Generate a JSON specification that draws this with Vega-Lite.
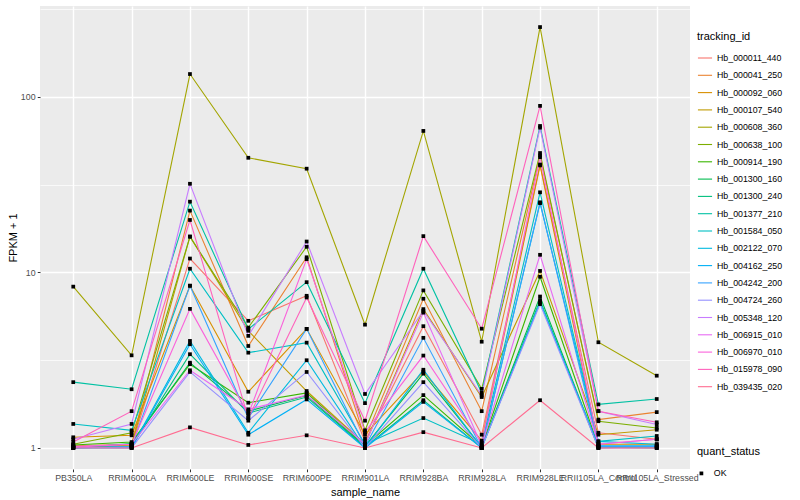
{
"$schema": "https://vega.github.io/schema/vega-lite/v6.json",
"width": 650, "height": 463,
"autosize": {"type": "none"},
"padding": {"left": 40, "top": 6, "right": 110, "bottom": 31},
"background": "white",
"config": {
  "font": "Liberation Sans",
  "view": {"fill": "#EBEBEB", "stroke": null},
  "axis": {"domain": false, "gridColor": "white", "labelColor": "#4D4D4D", "labelFontSize": 8.8, "tickColor": "#333333", "tickSize": 2.75, "labelPadding": 2.2, "titleFontSize": 11, "titleColor": "black", "titleFontWeight": "normal"},
  "legend": {"titleFontSize": 11, "titleFontWeight": "normal", "labelFontSize": 8.8, "labelColor": "black", "titleColor": "black"}
},
"data": {"values": [
{"tracking_id":"Hb_000011_440","sample_name":"PB350LA","fpkm":1.02,"quant_status":"OK"},
{"tracking_id":"Hb_000011_440","sample_name":"RRIM600LA","fpkm":1.03,"quant_status":"OK"},
{"tracking_id":"Hb_000011_440","sample_name":"RRIM600LE","fpkm":12.0,"quant_status":"OK"},
{"tracking_id":"Hb_000011_440","sample_name":"RRIM600SE","fpkm":5.3,"quant_status":"OK"},
{"tracking_id":"Hb_000011_440","sample_name":"RRIM600PE","fpkm":7.36,"quant_status":"OK"},
{"tracking_id":"Hb_000011_440","sample_name":"RRIM901LA","fpkm":1.09,"quant_status":"OK"},
{"tracking_id":"Hb_000011_440","sample_name":"RRIM928BA","fpkm":4.94,"quant_status":"OK"},
{"tracking_id":"Hb_000011_440","sample_name":"RRIM928LA","fpkm":1.19,"quant_status":"OK"},
{"tracking_id":"Hb_000011_440","sample_name":"RRIM928LE","fpkm":41.2,"quant_status":"OK"},
{"tracking_id":"Hb_000011_440","sample_name":"RRII105LA_Control","fpkm":1.22,"quant_status":"OK"},
{"tracking_id":"Hb_000011_440","sample_name":"RRII105LA_Stressed","fpkm":1.12,"quant_status":"OK"},
{"tracking_id":"Hb_000041_250","sample_name":"PB350LA","fpkm":1.03,"quant_status":"OK"},
{"tracking_id":"Hb_000041_250","sample_name":"RRIM600LA","fpkm":1.05,"quant_status":"OK"},
{"tracking_id":"Hb_000041_250","sample_name":"RRIM600LE","fpkm":22.5,"quant_status":"OK"},
{"tracking_id":"Hb_000041_250","sample_name":"RRIM600SE","fpkm":3.81,"quant_status":"OK"},
{"tracking_id":"Hb_000041_250","sample_name":"RRIM600PE","fpkm":12.2,"quant_status":"OK"},
{"tracking_id":"Hb_000041_250","sample_name":"RRIM901LA","fpkm":1.13,"quant_status":"OK"},
{"tracking_id":"Hb_000041_250","sample_name":"RRIM928BA","fpkm":7.08,"quant_status":"OK"},
{"tracking_id":"Hb_000041_250","sample_name":"RRIM928LA","fpkm":1.62,"quant_status":"OK"},
{"tracking_id":"Hb_000041_250","sample_name":"RRIM928LE","fpkm":46.4,"quant_status":"OK"},
{"tracking_id":"Hb_000041_250","sample_name":"RRII105LA_Control","fpkm":1.45,"quant_status":"OK"},
{"tracking_id":"Hb_000041_250","sample_name":"RRII105LA_Stressed","fpkm":1.60,"quant_status":"OK"},
{"tracking_id":"Hb_000092_060","sample_name":"PB350LA","fpkm":1.15,"quant_status":"OK"},
{"tracking_id":"Hb_000092_060","sample_name":"RRIM600LA","fpkm":1.18,"quant_status":"OK"},
{"tracking_id":"Hb_000092_060","sample_name":"RRIM600LE","fpkm":8.4,"quant_status":"OK"},
{"tracking_id":"Hb_000092_060","sample_name":"RRIM600SE","fpkm":2.09,"quant_status":"OK"},
{"tracking_id":"Hb_000092_060","sample_name":"RRIM600PE","fpkm":4.77,"quant_status":"OK"},
{"tracking_id":"Hb_000092_060","sample_name":"RRIM901LA","fpkm":1.19,"quant_status":"OK"},
{"tracking_id":"Hb_000092_060","sample_name":"RRIM928BA","fpkm":2.72,"quant_status":"OK"},
{"tracking_id":"Hb_000092_060","sample_name":"RRIM928LA","fpkm":1.10,"quant_status":"OK"},
{"tracking_id":"Hb_000092_060","sample_name":"RRIM928LE","fpkm":40.7,"quant_status":"OK"},
{"tracking_id":"Hb_000092_060","sample_name":"RRII105LA_Control","fpkm":1.05,"quant_status":"OK"},
{"tracking_id":"Hb_000092_060","sample_name":"RRII105LA_Stressed","fpkm":1.05,"quant_status":"OK"},
{"tracking_id":"Hb_000107_540","sample_name":"PB350LA","fpkm":1.01,"quant_status":"OK"},
{"tracking_id":"Hb_000107_540","sample_name":"RRIM600LA","fpkm":1.04,"quant_status":"OK"},
{"tracking_id":"Hb_000107_540","sample_name":"RRIM600LE","fpkm":16.0,"quant_status":"OK"},
{"tracking_id":"Hb_000107_540","sample_name":"RRIM600SE","fpkm":4.65,"quant_status":"OK"},
{"tracking_id":"Hb_000107_540","sample_name":"RRIM600PE","fpkm":2.11,"quant_status":"OK"},
{"tracking_id":"Hb_000107_540","sample_name":"RRIM901LA","fpkm":1.05,"quant_status":"OK"},
{"tracking_id":"Hb_000107_540","sample_name":"RRIM928BA","fpkm":6.18,"quant_status":"OK"},
{"tracking_id":"Hb_000107_540","sample_name":"RRIM928LA","fpkm":1.95,"quant_status":"OK"},
{"tracking_id":"Hb_000107_540","sample_name":"RRIM928LE","fpkm":10.2,"quant_status":"OK"},
{"tracking_id":"Hb_000107_540","sample_name":"RRII105LA_Control","fpkm":1.19,"quant_status":"OK"},
{"tracking_id":"Hb_000107_540","sample_name":"RRII105LA_Stressed","fpkm":1.27,"quant_status":"OK"},
{"tracking_id":"Hb_000608_360","sample_name":"PB350LA","fpkm":8.3,"quant_status":"OK"},
{"tracking_id":"Hb_000608_360","sample_name":"RRIM600LA","fpkm":3.37,"quant_status":"OK"},
{"tracking_id":"Hb_000608_360","sample_name":"RRIM600LE","fpkm":135,"quant_status":"OK"},
{"tracking_id":"Hb_000608_360","sample_name":"RRIM600SE","fpkm":45,"quant_status":"OK"},
{"tracking_id":"Hb_000608_360","sample_name":"RRIM600PE","fpkm":39,"quant_status":"OK"},
{"tracking_id":"Hb_000608_360","sample_name":"RRIM901LA","fpkm":5.04,"quant_status":"OK"},
{"tracking_id":"Hb_000608_360","sample_name":"RRIM928BA","fpkm":64,"quant_status":"OK"},
{"tracking_id":"Hb_000608_360","sample_name":"RRIM928LA","fpkm":4.03,"quant_status":"OK"},
{"tracking_id":"Hb_000608_360","sample_name":"RRIM928LE","fpkm":250,"quant_status":"OK"},
{"tracking_id":"Hb_000608_360","sample_name":"RRII105LA_Control","fpkm":4.0,"quant_status":"OK"},
{"tracking_id":"Hb_000608_360","sample_name":"RRII105LA_Stressed","fpkm":2.58,"quant_status":"OK"},
{"tracking_id":"Hb_000638_100","sample_name":"PB350LA","fpkm":1.05,"quant_status":"OK"},
{"tracking_id":"Hb_000638_100","sample_name":"RRIM600LA","fpkm":1.22,"quant_status":"OK"},
{"tracking_id":"Hb_000638_100","sample_name":"RRIM600LE","fpkm":16.0,"quant_status":"OK"},
{"tracking_id":"Hb_000638_100","sample_name":"RRIM600SE","fpkm":4.85,"quant_status":"OK"},
{"tracking_id":"Hb_000638_100","sample_name":"RRIM600PE","fpkm":14.0,"quant_status":"OK"},
{"tracking_id":"Hb_000638_100","sample_name":"RRIM901LA","fpkm":1.26,"quant_status":"OK"},
{"tracking_id":"Hb_000638_100","sample_name":"RRIM928BA","fpkm":7.9,"quant_status":"OK"},
{"tracking_id":"Hb_000638_100","sample_name":"RRIM928LA","fpkm":2.17,"quant_status":"OK"},
{"tracking_id":"Hb_000638_100","sample_name":"RRIM928LE","fpkm":47.9,"quant_status":"OK"},
{"tracking_id":"Hb_000638_100","sample_name":"RRII105LA_Control","fpkm":1.42,"quant_status":"OK"},
{"tracking_id":"Hb_000638_100","sample_name":"RRII105LA_Stressed","fpkm":1.30,"quant_status":"OK"},
{"tracking_id":"Hb_000914_190","sample_name":"PB350LA","fpkm":1.04,"quant_status":"OK"},
{"tracking_id":"Hb_000914_190","sample_name":"RRIM600LA","fpkm":1.08,"quant_status":"OK"},
{"tracking_id":"Hb_000914_190","sample_name":"RRIM600LE","fpkm":3.0,"quant_status":"OK"},
{"tracking_id":"Hb_000914_190","sample_name":"RRIM600SE","fpkm":1.81,"quant_status":"OK"},
{"tracking_id":"Hb_000914_190","sample_name":"RRIM600PE","fpkm":2.06,"quant_status":"OK"},
{"tracking_id":"Hb_000914_190","sample_name":"RRIM901LA","fpkm":1.03,"quant_status":"OK"},
{"tracking_id":"Hb_000914_190","sample_name":"RRIM928BA","fpkm":2.0,"quant_status":"OK"},
{"tracking_id":"Hb_000914_190","sample_name":"RRIM928LA","fpkm":1.02,"quant_status":"OK"},
{"tracking_id":"Hb_000914_190","sample_name":"RRIM928LE","fpkm":9.45,"quant_status":"OK"},
{"tracking_id":"Hb_000914_190","sample_name":"RRII105LA_Control","fpkm":1.02,"quant_status":"OK"},
{"tracking_id":"Hb_000914_190","sample_name":"RRII105LA_Stressed","fpkm":1.01,"quant_status":"OK"},
{"tracking_id":"Hb_001300_160","sample_name":"PB350LA","fpkm":1.0,"quant_status":"OK"},
{"tracking_id":"Hb_001300_160","sample_name":"RRIM600LA","fpkm":1.06,"quant_status":"OK"},
{"tracking_id":"Hb_001300_160","sample_name":"RRIM600LE","fpkm":3.06,"quant_status":"OK"},
{"tracking_id":"Hb_001300_160","sample_name":"RRIM600SE","fpkm":1.62,"quant_status":"OK"},
{"tracking_id":"Hb_001300_160","sample_name":"RRIM600PE","fpkm":1.99,"quant_status":"OK"},
{"tracking_id":"Hb_001300_160","sample_name":"RRIM901LA","fpkm":1.02,"quant_status":"OK"},
{"tracking_id":"Hb_001300_160","sample_name":"RRIM928BA","fpkm":2.65,"quant_status":"OK"},
{"tracking_id":"Hb_001300_160","sample_name":"RRIM928LA","fpkm":1.01,"quant_status":"OK"},
{"tracking_id":"Hb_001300_160","sample_name":"RRIM928LE","fpkm":7.29,"quant_status":"OK"},
{"tracking_id":"Hb_001300_160","sample_name":"RRII105LA_Control","fpkm":1.01,"quant_status":"OK"},
{"tracking_id":"Hb_001300_160","sample_name":"RRII105LA_Stressed","fpkm":1.0,"quant_status":"OK"},
{"tracking_id":"Hb_001300_240","sample_name":"PB350LA","fpkm":1.01,"quant_status":"OK"},
{"tracking_id":"Hb_001300_240","sample_name":"RRIM600LA","fpkm":1.02,"quant_status":"OK"},
{"tracking_id":"Hb_001300_240","sample_name":"RRIM600LE","fpkm":3.42,"quant_status":"OK"},
{"tracking_id":"Hb_001300_240","sample_name":"RRIM600SE","fpkm":1.58,"quant_status":"OK"},
{"tracking_id":"Hb_001300_240","sample_name":"RRIM600PE","fpkm":1.95,"quant_status":"OK"},
{"tracking_id":"Hb_001300_240","sample_name":"RRIM901LA","fpkm":1.01,"quant_status":"OK"},
{"tracking_id":"Hb_001300_240","sample_name":"RRIM928BA","fpkm":1.87,"quant_status":"OK"},
{"tracking_id":"Hb_001300_240","sample_name":"RRIM928LA","fpkm":1.0,"quant_status":"OK"},
{"tracking_id":"Hb_001300_240","sample_name":"RRIM928LE","fpkm":6.95,"quant_status":"OK"},
{"tracking_id":"Hb_001300_240","sample_name":"RRII105LA_Control","fpkm":1.0,"quant_status":"OK"},
{"tracking_id":"Hb_001300_240","sample_name":"RRII105LA_Stressed","fpkm":1.02,"quant_status":"OK"},
{"tracking_id":"Hb_001377_210","sample_name":"PB350LA","fpkm":2.37,"quant_status":"OK"},
{"tracking_id":"Hb_001377_210","sample_name":"RRIM600LA","fpkm":2.16,"quant_status":"OK"},
{"tracking_id":"Hb_001377_210","sample_name":"RRIM600LE","fpkm":25.3,"quant_status":"OK"},
{"tracking_id":"Hb_001377_210","sample_name":"RRIM600SE","fpkm":4.75,"quant_status":"OK"},
{"tracking_id":"Hb_001377_210","sample_name":"RRIM600PE","fpkm":8.8,"quant_status":"OK"},
{"tracking_id":"Hb_001377_210","sample_name":"RRIM901LA","fpkm":1.80,"quant_status":"OK"},
{"tracking_id":"Hb_001377_210","sample_name":"RRIM928BA","fpkm":10.5,"quant_status":"OK"},
{"tracking_id":"Hb_001377_210","sample_name":"RRIM928LA","fpkm":2.06,"quant_status":"OK"},
{"tracking_id":"Hb_001377_210","sample_name":"RRIM928LE","fpkm":68.3,"quant_status":"OK"},
{"tracking_id":"Hb_001377_210","sample_name":"RRII105LA_Control","fpkm":1.77,"quant_status":"OK"},
{"tracking_id":"Hb_001377_210","sample_name":"RRII105LA_Stressed","fpkm":1.90,"quant_status":"OK"},
{"tracking_id":"Hb_001584_050","sample_name":"PB350LA","fpkm":1.37,"quant_status":"OK"},
{"tracking_id":"Hb_001584_050","sample_name":"RRIM600LA","fpkm":1.26,"quant_status":"OK"},
{"tracking_id":"Hb_001584_050","sample_name":"RRIM600LE","fpkm":10.5,"quant_status":"OK"},
{"tracking_id":"Hb_001584_050","sample_name":"RRIM600SE","fpkm":3.49,"quant_status":"OK"},
{"tracking_id":"Hb_001584_050","sample_name":"RRIM600PE","fpkm":3.98,"quant_status":"OK"},
{"tracking_id":"Hb_001584_050","sample_name":"RRIM901LA","fpkm":1.05,"quant_status":"OK"},
{"tracking_id":"Hb_001584_050","sample_name":"RRIM928BA","fpkm":1.48,"quant_status":"OK"},
{"tracking_id":"Hb_001584_050","sample_name":"RRIM928LA","fpkm":1.05,"quant_status":"OK"},
{"tracking_id":"Hb_001584_050","sample_name":"RRIM928LE","fpkm":28.6,"quant_status":"OK"},
{"tracking_id":"Hb_001584_050","sample_name":"RRII105LA_Control","fpkm":1.09,"quant_status":"OK"},
{"tracking_id":"Hb_001584_050","sample_name":"RRII105LA_Stressed","fpkm":1.17,"quant_status":"OK"},
{"tracking_id":"Hb_002122_070","sample_name":"PB350LA","fpkm":1.0,"quant_status":"OK"},
{"tracking_id":"Hb_002122_070","sample_name":"RRIM600LA","fpkm":1.01,"quant_status":"OK"},
{"tracking_id":"Hb_002122_070","sample_name":"RRIM600LE","fpkm":4.07,"quant_status":"OK"},
{"tracking_id":"Hb_002122_070","sample_name":"RRIM600SE","fpkm":1.22,"quant_status":"OK"},
{"tracking_id":"Hb_002122_070","sample_name":"RRIM600PE","fpkm":3.16,"quant_status":"OK"},
{"tracking_id":"Hb_002122_070","sample_name":"RRIM901LA","fpkm":1.0,"quant_status":"OK"},
{"tracking_id":"Hb_002122_070","sample_name":"RRIM928BA","fpkm":2.79,"quant_status":"OK"},
{"tracking_id":"Hb_002122_070","sample_name":"RRIM928LA","fpkm":1.0,"quant_status":"OK"},
{"tracking_id":"Hb_002122_070","sample_name":"RRIM928LE","fpkm":24.8,"quant_status":"OK"},
{"tracking_id":"Hb_002122_070","sample_name":"RRII105LA_Control","fpkm":1.09,"quant_status":"OK"},
{"tracking_id":"Hb_002122_070","sample_name":"RRII105LA_Stressed","fpkm":1.05,"quant_status":"OK"},
{"tracking_id":"Hb_004162_250","sample_name":"PB350LA","fpkm":1.0,"quant_status":"OK"},
{"tracking_id":"Hb_004162_250","sample_name":"RRIM600LA","fpkm":1.0,"quant_status":"OK"},
{"tracking_id":"Hb_004162_250","sample_name":"RRIM600LE","fpkm":3.9,"quant_status":"OK"},
{"tracking_id":"Hb_004162_250","sample_name":"RRIM600SE","fpkm":1.19,"quant_status":"OK"},
{"tracking_id":"Hb_004162_250","sample_name":"RRIM600PE","fpkm":1.89,"quant_status":"OK"},
{"tracking_id":"Hb_004162_250","sample_name":"RRIM901LA","fpkm":1.0,"quant_status":"OK"},
{"tracking_id":"Hb_004162_250","sample_name":"RRIM928BA","fpkm":1.83,"quant_status":"OK"},
{"tracking_id":"Hb_004162_250","sample_name":"RRIM928LA","fpkm":1.0,"quant_status":"OK"},
{"tracking_id":"Hb_004162_250","sample_name":"RRIM928LE","fpkm":6.75,"quant_status":"OK"},
{"tracking_id":"Hb_004162_250","sample_name":"RRII105LA_Control","fpkm":1.03,"quant_status":"OK"},
{"tracking_id":"Hb_004162_250","sample_name":"RRII105LA_Stressed","fpkm":1.03,"quant_status":"OK"},
{"tracking_id":"Hb_004242_200","sample_name":"PB350LA","fpkm":1.0,"quant_status":"OK"},
{"tracking_id":"Hb_004242_200","sample_name":"RRIM600LA","fpkm":1.02,"quant_status":"OK"},
{"tracking_id":"Hb_004242_200","sample_name":"RRIM600LE","fpkm":8.4,"quant_status":"OK"},
{"tracking_id":"Hb_004242_200","sample_name":"RRIM600SE","fpkm":1.48,"quant_status":"OK"},
{"tracking_id":"Hb_004242_200","sample_name":"RRIM600PE","fpkm":4.77,"quant_status":"OK"},
{"tracking_id":"Hb_004242_200","sample_name":"RRIM901LA","fpkm":1.02,"quant_status":"OK"},
{"tracking_id":"Hb_004242_200","sample_name":"RRIM928BA","fpkm":4.24,"quant_status":"OK"},
{"tracking_id":"Hb_004242_200","sample_name":"RRIM928LA","fpkm":1.0,"quant_status":"OK"},
{"tracking_id":"Hb_004242_200","sample_name":"RRIM928LE","fpkm":25.1,"quant_status":"OK"},
{"tracking_id":"Hb_004242_200","sample_name":"RRII105LA_Control","fpkm":1.02,"quant_status":"OK"},
{"tracking_id":"Hb_004242_200","sample_name":"RRII105LA_Stressed","fpkm":1.02,"quant_status":"OK"},
{"tracking_id":"Hb_004724_260","sample_name":"PB350LA","fpkm":1.01,"quant_status":"OK"},
{"tracking_id":"Hb_004724_260","sample_name":"RRIM600LA","fpkm":1.0,"quant_status":"OK"},
{"tracking_id":"Hb_004724_260","sample_name":"RRIM600LE","fpkm":2.71,"quant_status":"OK"},
{"tracking_id":"Hb_004724_260","sample_name":"RRIM600SE","fpkm":1.43,"quant_status":"OK"},
{"tracking_id":"Hb_004724_260","sample_name":"RRIM600PE","fpkm":2.71,"quant_status":"OK"},
{"tracking_id":"Hb_004724_260","sample_name":"RRIM901LA","fpkm":1.0,"quant_status":"OK"},
{"tracking_id":"Hb_004724_260","sample_name":"RRIM928BA","fpkm":2.37,"quant_status":"OK"},
{"tracking_id":"Hb_004724_260","sample_name":"RRIM928LA","fpkm":1.0,"quant_status":"OK"},
{"tracking_id":"Hb_004724_260","sample_name":"RRIM928LE","fpkm":6.6,"quant_status":"OK"},
{"tracking_id":"Hb_004724_260","sample_name":"RRII105LA_Control","fpkm":1.0,"quant_status":"OK"},
{"tracking_id":"Hb_004724_260","sample_name":"RRII105LA_Stressed","fpkm":1.0,"quant_status":"OK"},
{"tracking_id":"Hb_005348_120","sample_name":"PB350LA","fpkm":1.12,"quant_status":"OK"},
{"tracking_id":"Hb_005348_120","sample_name":"RRIM600LA","fpkm":1.37,"quant_status":"OK"},
{"tracking_id":"Hb_005348_120","sample_name":"RRIM600LE","fpkm":32,"quant_status":"OK"},
{"tracking_id":"Hb_005348_120","sample_name":"RRIM600SE","fpkm":4.35,"quant_status":"OK"},
{"tracking_id":"Hb_005348_120","sample_name":"RRIM600PE","fpkm":15.0,"quant_status":"OK"},
{"tracking_id":"Hb_005348_120","sample_name":"RRIM901LA","fpkm":2.03,"quant_status":"OK"},
{"tracking_id":"Hb_005348_120","sample_name":"RRIM928BA","fpkm":6.04,"quant_status":"OK"},
{"tracking_id":"Hb_005348_120","sample_name":"RRIM928LA","fpkm":1.99,"quant_status":"OK"},
{"tracking_id":"Hb_005348_120","sample_name":"RRIM928LE","fpkm":66.8,"quant_status":"OK"},
{"tracking_id":"Hb_005348_120","sample_name":"RRII105LA_Control","fpkm":1.62,"quant_status":"OK"},
{"tracking_id":"Hb_005348_120","sample_name":"RRII105LA_Stressed","fpkm":1.36,"quant_status":"OK"},
{"tracking_id":"Hb_006915_010","sample_name":"PB350LA","fpkm":1.02,"quant_status":"OK"},
{"tracking_id":"Hb_006915_010","sample_name":"RRIM600LA","fpkm":1.05,"quant_status":"OK"},
{"tracking_id":"Hb_006915_010","sample_name":"RRIM600LE","fpkm":2.77,"quant_status":"OK"},
{"tracking_id":"Hb_006915_010","sample_name":"RRIM600SE","fpkm":1.66,"quant_status":"OK"},
{"tracking_id":"Hb_006915_010","sample_name":"RRIM600PE","fpkm":2.0,"quant_status":"OK"},
{"tracking_id":"Hb_006915_010","sample_name":"RRIM901LA","fpkm":1.05,"quant_status":"OK"},
{"tracking_id":"Hb_006915_010","sample_name":"RRIM928BA","fpkm":5.9,"quant_status":"OK"},
{"tracking_id":"Hb_006915_010","sample_name":"RRIM928LA","fpkm":1.03,"quant_status":"OK"},
{"tracking_id":"Hb_006915_010","sample_name":"RRIM928LE","fpkm":12.6,"quant_status":"OK"},
{"tracking_id":"Hb_006915_010","sample_name":"RRII105LA_Control","fpkm":1.05,"quant_status":"OK"},
{"tracking_id":"Hb_006915_010","sample_name":"RRII105LA_Stressed","fpkm":1.12,"quant_status":"OK"},
{"tracking_id":"Hb_006970_010","sample_name":"PB350LA","fpkm":1.01,"quant_status":"OK"},
{"tracking_id":"Hb_006970_010","sample_name":"RRIM600LA","fpkm":1.05,"quant_status":"OK"},
{"tracking_id":"Hb_006970_010","sample_name":"RRIM600LE","fpkm":6.2,"quant_status":"OK"},
{"tracking_id":"Hb_006970_010","sample_name":"RRIM600SE","fpkm":1.55,"quant_status":"OK"},
{"tracking_id":"Hb_006970_010","sample_name":"RRIM600PE","fpkm":11.9,"quant_status":"OK"},
{"tracking_id":"Hb_006970_010","sample_name":"RRIM901LA","fpkm":1.23,"quant_status":"OK"},
{"tracking_id":"Hb_006970_010","sample_name":"RRIM928BA","fpkm":3.36,"quant_status":"OK"},
{"tracking_id":"Hb_006970_010","sample_name":"RRIM928LA","fpkm":1.07,"quant_status":"OK"},
{"tracking_id":"Hb_006970_010","sample_name":"RRIM928LE","fpkm":45.4,"quant_status":"OK"},
{"tracking_id":"Hb_006970_010","sample_name":"RRII105LA_Control","fpkm":1.05,"quant_status":"OK"},
{"tracking_id":"Hb_006970_010","sample_name":"RRII105LA_Stressed","fpkm":1.12,"quant_status":"OK"},
{"tracking_id":"Hb_015978_090","sample_name":"PB350LA","fpkm":1.08,"quant_status":"OK"},
{"tracking_id":"Hb_015978_090","sample_name":"RRIM600LA","fpkm":1.62,"quant_status":"OK"},
{"tracking_id":"Hb_015978_090","sample_name":"RRIM600LE","fpkm":19.9,"quant_status":"OK"},
{"tracking_id":"Hb_015978_090","sample_name":"RRIM600SE","fpkm":1.48,"quant_status":"OK"},
{"tracking_id":"Hb_015978_090","sample_name":"RRIM600PE","fpkm":7.2,"quant_status":"OK"},
{"tracking_id":"Hb_015978_090","sample_name":"RRIM901LA","fpkm":1.43,"quant_status":"OK"},
{"tracking_id":"Hb_015978_090","sample_name":"RRIM928BA","fpkm":16.1,"quant_status":"OK"},
{"tracking_id":"Hb_015978_090","sample_name":"RRIM928LA","fpkm":4.78,"quant_status":"OK"},
{"tracking_id":"Hb_015978_090","sample_name":"RRIM928LE","fpkm":88.9,"quant_status":"OK"},
{"tracking_id":"Hb_015978_090","sample_name":"RRII105LA_Control","fpkm":1.62,"quant_status":"OK"},
{"tracking_id":"Hb_015978_090","sample_name":"RRII105LA_Stressed","fpkm":1.40,"quant_status":"OK"},
{"tracking_id":"Hb_039435_020","sample_name":"PB350LA","fpkm":1.0,"quant_status":"OK"},
{"tracking_id":"Hb_039435_020","sample_name":"RRIM600LA","fpkm":1.0,"quant_status":"OK"},
{"tracking_id":"Hb_039435_020","sample_name":"RRIM600LE","fpkm":1.31,"quant_status":"OK"},
{"tracking_id":"Hb_039435_020","sample_name":"RRIM600SE","fpkm":1.04,"quant_status":"OK"},
{"tracking_id":"Hb_039435_020","sample_name":"RRIM600PE","fpkm":1.18,"quant_status":"OK"},
{"tracking_id":"Hb_039435_020","sample_name":"RRIM901LA","fpkm":1.0,"quant_status":"OK"},
{"tracking_id":"Hb_039435_020","sample_name":"RRIM928BA","fpkm":1.23,"quant_status":"OK"},
{"tracking_id":"Hb_039435_020","sample_name":"RRIM928LA","fpkm":1.0,"quant_status":"OK"},
{"tracking_id":"Hb_039435_020","sample_name":"RRIM928LE","fpkm":1.87,"quant_status":"OK"},
{"tracking_id":"Hb_039435_020","sample_name":"RRII105LA_Control","fpkm":1.0,"quant_status":"OK"},
{"tracking_id":"Hb_039435_020","sample_name":"RRII105LA_Stressed","fpkm":1.0,"quant_status":"OK"}
]},
"encoding": {
  "x": {"field": "sample_name", "type": "nominal", "title": "sample_name",
    "sort": ["PB350LA","RRIM600LA","RRIM600LE","RRIM600SE","RRIM600PE","RRIM901LA","RRIM928BA","RRIM928LA","RRIM928LE","RRII105LA_Control","RRII105LA_Stressed"],
    "scale": {"type": "point", "padding": 0.57},
    "axis": {"labelAngle": 0, "labelOverlap": false, "labelBound": false, "grid": true, "gridWidth": 1.4, "titlePadding": 4}},
  "y": {"field": "fpkm", "type": "quantitative", "title": "FPKM + 1",
    "scale": {"type": "log", "domain": [0.7586, 329.6], "nice": false, "zero": false},
    "axis": {"values": [1, 3.1623, 10, 31.623, 100, 316.23], "format": "d",
      "labelExpr": "(datum.value == 1 || datum.value == 10 || datum.value == 100) ? datum.label : ''",
      "gridWidth": {"condition": {"test": "datum.value == 1 || datum.value == 10 || datum.value == 100", "value": 1.4}, "value": 0.7},
      "tickOpacity": {"condition": {"test": "datum.value == 1 || datum.value == 10 || datum.value == 100", "value": 1}, "value": 0},
      "titlePadding": 2}}
},
"layer": [
  {"mark": {"type": "line", "strokeWidth": 1.1},
   "encoding": {"color": {"field": "tracking_id", "type": "nominal", "title": "tracking_id",
     "scale": {"range": ["#F8766D","#EA8331","#D89000","#C09B00","#A3A500","#7CAE00","#39B600","#00BB4E","#00BF7D","#00C1A3","#00BFC4","#00BAE0","#00B0F6","#35A2FF","#9590FF","#C77CFF","#E76BF3","#FA62DB","#FF62BC","#FF6C91"]},
     "legend": {"orient": "none", "legendX": 657, "legendY": 25, "symbolType": "stroke", "symbolSize": 200, "symbolStrokeWidth": 1.1, "rowPadding": 4.3, "titlePadding": 8, "labelOffset": 4}}}},
  {"mark": {"type": "point", "filled": true, "color": "black", "opacity": 1, "size": 14},
   "encoding": {"shape": {"field": "quant_status", "type": "nominal", "title": "quant_status",
     "scale": {"range": ["square"]},
     "legend": {"orient": "none", "legendX": 657, "legendY": 440, "symbolFillColor": "black", "symbolStrokeColor": "black", "symbolSize": 14, "titlePadding": 12, "labelOffset": 8}}}}
]
}
